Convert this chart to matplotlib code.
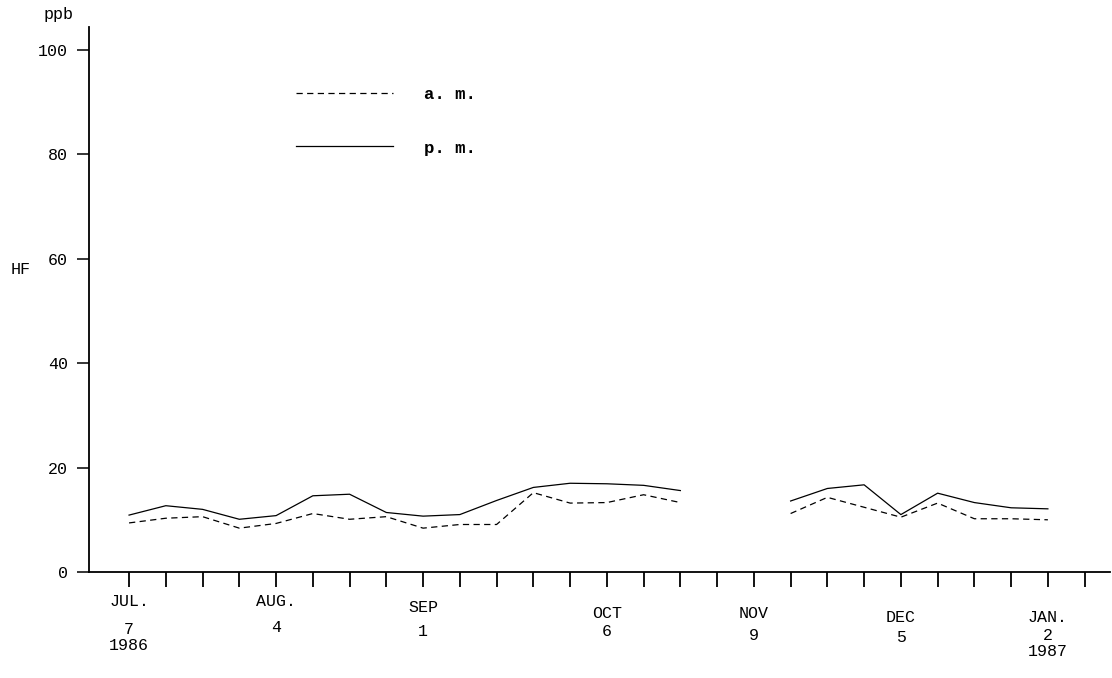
import numpy as np
import matplotlib
matplotlib.use('Agg')
import matplotlib.pyplot as plt
from matplotlib.transforms import blended_transform_factory

plt.rcParams['font.family'] = ['Liberation Mono', 'DejaVu Sans Mono']

#----------------------------------------
# weekly sampling, week 0 = Jul 7 1986
weeks = np.arange(26)
nan = np.nan

am = [9.4, 10.3, 10.6, 8.4, 9.3, 11.2, 10.1, 10.6, 8.4, 9.1, 9.1, 15.2, 13.2,
      13.3, 14.8, 13.3, nan, nan, 11.2, 14.3, 12.4, 10.5, 13.2, 10.2, 10.2, 10.0]
pm = [10.9, 12.7, 12.0, 10.1, 10.8, 14.6, 14.9, 11.4, 10.7, 11.0, 13.7, 16.2, 17.0,
      16.9, 16.6, 15.6, nan, nan, 13.6, 16.0, 16.7, 11.0, 15.1, 13.3, 12.3, 12.1]

label_weeks = [0, 4, 8, 13, 17, 21, 25]
months = ['JUL.', 'AUG.', 'SEP', 'OCT', 'NOV', 'DEC', 'JAN.']
days = ['7', '4', '1', '6', '9', '5', '2']
years = ['1986', '', '', '', '', '', '1987']

yticks = [0, 20, 40, 60, 80, 100]

#----------------------------------------
W, H = 1112, 678
fs = 12
fig = plt.figure(figsize=(W / 100, H / 100), dpi=100)
ax = fig.add_axes([89 / W, 1 - 572 / H, (1110 - 89) / W, (572 - 27) / H])

ax.plot(weeks, am, color='black', lw=0.9, dashes=(5, 3.5), label='a. m.')
ax.plot(weeks, pm, color='black', lw=0.9, label='p. m.')

ax.set_xlim(-1.09, 26.69)
ax.set_ylim(0, 104.4)

for s in ['top', 'right']:
    ax.spines[s].set_visible(False)
ax.spines['left'].set_linewidth(1.3)
ax.spines['bottom'].set_linewidth(1.3)

ax.set_xticks(np.arange(27))
ax.set_xticklabels([])
ax.tick_params(axis='x', direction='out', length=11, width=1.3)
ax.set_yticks(yticks)
ax.set_yticklabels([str(v) for v in yticks], fontsize=fs)
ax.tick_params(axis='y', direction='out', length=9, width=1.1, pad=6)

# date labels under the axis (typed by hand, rows not quite even)
trans = blended_transform_factory(ax.transData, fig.transFigure)
month_y = [602, 602, 608, 614, 614, 618, 618]
day_y = [629, 627, 632, 632, 635, 637, 636]
year_y = [646, 0, 0, 0, 0, 0, 652]
for i, w in enumerate(label_weeks):
    ax.text(w, 1 - month_y[i] / H, months[i], transform=trans, ha='center',
            va='center', fontsize=fs)
    ax.text(w, 1 - day_y[i] / H, days[i], transform=trans, ha='center',
            va='center', fontsize=fs)
    if years[i]:
        ax.text(w, 1 - year_y[i] / H, years[i], transform=trans, ha='center',
                va='center', fontsize=fs)

fig.text(59 / W, 1 - 15 / H, 'ppb', ha='center', va='center', fontsize=fs)
fig.text(21 / W, 1 - 270 / H, 'HF', ha='center', va='center', fontsize=fs)

ax.legend(loc='upper left', bbox_to_anchor=(296 / W, 1 - 87 / H),
          bbox_transform=fig.transFigure, frameon=False,
          handlelength=5.6, handletextpad=1.8, labelspacing=2.2,
          borderpad=0, borderaxespad=0, prop={'weight': 'bold', 'size': 12.5})

plt.savefig('out.png', dpi=100)
